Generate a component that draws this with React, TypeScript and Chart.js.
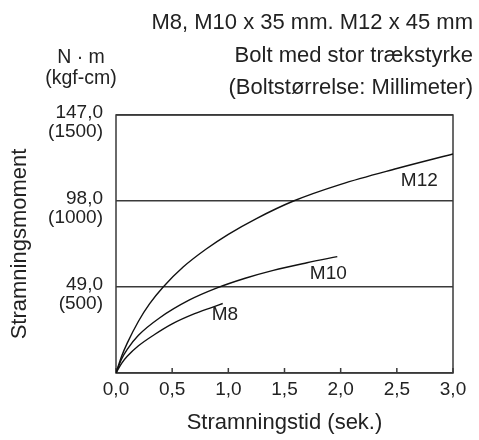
import React, { useEffect, useRef } from "react";
import { Chart, registerables } from "chart.js";

Chart.register(...registerables);

// Stramningstid (sek.) and Stramningsmoment (N·m)
const timeM12 = [0, 0.05, 0.1, 0.2, 0.3, 0.42, 0.6, 0.8, 1.0, 1.25, 1.58, 2.0, 2.5, 3.0];
const torqueM12 = [0, 9.5, 17, 29.5, 39.5, 49, 60.5, 70.5, 79, 88, 98, 107.5, 116.5, 124.8];

const timeM10 = [0, 0.05, 0.1, 0.2, 0.39, 0.65, 0.9, 1.15, 1.4, 1.7, 1.97];
const torqueM10 = [0, 8, 13.5, 21.5, 31.5, 41.5, 48.5, 54, 58.5, 62.8, 66.3];

const timeM8 = [0, 0.05, 0.1, 0.2, 0.34, 0.5, 0.7, 0.85, 0.95];
const torqueM8 = [0, 5.5, 9.5, 15.5, 21.8, 28, 33.8, 37.3, 39.6];

const seriesNames = ["M12", "M10", "M8"];
const labelTime = [2.7, 1.89, 0.97];
const labelTorque = [109.8, 56.5, 33];

const xTickValues = [0, 0.5, 1.0, 1.5, 2.0, 2.5, 3.0];
const xTickLabels = ["0,0", "0,5", "1,0", "1,5", "2,0", "2,5", "3,0"];
const yTickValues = [0, 49, 98, 147];
const yTickLabels = [[""], ["49,0", "(500)"], ["98,0", "(1000)"], ["147,0", "(1500)"]];

const titleLines = [
  "M8, M10 x 35 mm. M12 x 45 mm",
  "Bolt med stor trækstyrke",
  "(Boltstørrelse: Millimeter)",
];
const unitLines = ["N · m", "(kgf-cm)"];
const xTitle = "Stramningstid (sek.)";
const yTitle = "Stramningsmoment";

const FONT = "'Liberation Sans', Arial, Helvetica, sans-serif";
const TEXT = "#222";
const FRAME = "#3a3a3a";

const toPoints = (xs: number[], ys: number[]) => xs.map((x, i) => ({ x, y: ys[i] }));

export default function App() {
  const ref = useRef<HTMLCanvasElement | null>(null);

  useEffect(() => {
    if (!ref.current) return;

    const decor = {
      id: "decor",
      beforeDatasetsDraw(chart: any) {
        const { ctx, chartArea: a, scales } = chart;
        ctx.save();
        ctx.strokeStyle = FRAME;
        ctx.lineWidth = 1.5;
        ctx.strokeRect(a.left, a.top, a.right - a.left, a.bottom - a.top);
        ctx.beginPath();
        xTickValues.forEach((v) => {
          const px = scales.x.getPixelForValue(v);
          ctx.moveTo(px, a.bottom);
          ctx.lineTo(px, a.bottom - 5);
        });
        ctx.stroke();
        ctx.restore();
      },
      afterDatasetsDraw(chart: any) {
        const { ctx, scales } = chart;
        ctx.save();
        ctx.fillStyle = TEXT;
        ctx.font = `19px ${FONT}`;
        ctx.textAlign = "center";
        ctx.textBaseline = "middle";
        seriesNames.forEach((n, i) => {
          ctx.fillText(n, scales.x.getPixelForValue(labelTime[i]), scales.y.getPixelForValue(labelTorque[i]));
        });
        ctx.restore();
      },
      afterDraw(chart: any) {
        const { ctx } = chart;
        ctx.save();
        ctx.fillStyle = TEXT;
        ctx.font = `22px ${FONT}`;
        ctx.textBaseline = "middle";
        ctx.textAlign = "right";
        const ys = [23, 56, 88];
        titleLines.forEach((t, i) => ctx.fillText(t, 473, ys[i]));
        ctx.textAlign = "center";
        ctx.font = `19.5px ${FONT}`;
        const uy = [58, 79];
        unitLines.forEach((t, i) => ctx.fillText(t, 81, uy[i]));
        ctx.restore();
      },
    };

    const mk = (label: string, xs: number[], ys: number[]) => ({
      label,
      data: toPoints(xs, ys),
      showLine: true,
      borderColor: "#111",
      borderWidth: 1.4,
      pointRadius: 0,
      fill: false,
      cubicInterpolationMode: "monotone" as const,
    });

    const chart = new Chart(ref.current, {
      type: "scatter",
      data: {
        datasets: [
          mk("M12", timeM12, torqueM12),
          mk("M10", timeM10, torqueM10),
          mk("M8", timeM8, torqueM8),
        ],
      },
      options: {
        responsive: false,
        animation: false,
        layout: { padding: { left: 0, right: 26, top: 115, bottom: 0 } },
        plugins: { legend: { display: false }, tooltip: { enabled: false }, title: { display: false } },
        scales: {
          x: {
            type: "linear",
            min: 0,
            max: 3,
            afterBuildTicks: (s: any) => {
              s.ticks = xTickValues.map((v) => ({ value: v }));
            },
            ticks: {
              callback: (v: any) => xTickLabels[xTickValues.indexOf(Number(v))] ?? "",
              font: { family: FONT, size: 19 },
              color: TEXT,
              padding: 5,
              maxRotation: 0,
              autoSkip: false,
            },
            grid: { display: false, drawTicks: false },
            border: { display: false },
            title: {
              display: true,
              text: xTitle,
              font: { family: FONT, size: 22 },
              color: TEXT,
              padding: { top: 0, bottom: 4 },
            },
            afterFit: (s: any) => {
              s.height = 67;
            },
          },
          y: {
            type: "linear",
            min: 0,
            max: 147,
            afterBuildTicks: (s: any) => {
              s.ticks = yTickValues.map((v) => ({ value: v }));
            },
            ticks: {
              callback: (v: any) => yTickLabels[yTickValues.indexOf(Number(v))] ?? "",
              font: { family: FONT, size: 19, lineHeight: 1.0 },
              color: TEXT,
              padding: 13,
              labelOffset: 7,
              autoSkip: false,
            },
            grid: { color: FRAME, lineWidth: 1.5, drawTicks: false },
            border: { display: false },
            title: {
              display: true,
              text: yTitle,
              font: { family: FONT, size: 22 },
              color: TEXT,
              padding: { top: 7, bottom: 0 },
            },
            afterFit: (s: any) => {
              s.width = 116;
            },
          },
        },
      },
      plugins: [decor],
    });

    return () => chart.destroy();
  }, []);

  return (
    <div style={{ position: "fixed", left: 0, top: 0, width: 479, height: 440, background: "#fff" }}>
      <canvas ref={ref} width={479} height={440} />
    </div>
  );
}
